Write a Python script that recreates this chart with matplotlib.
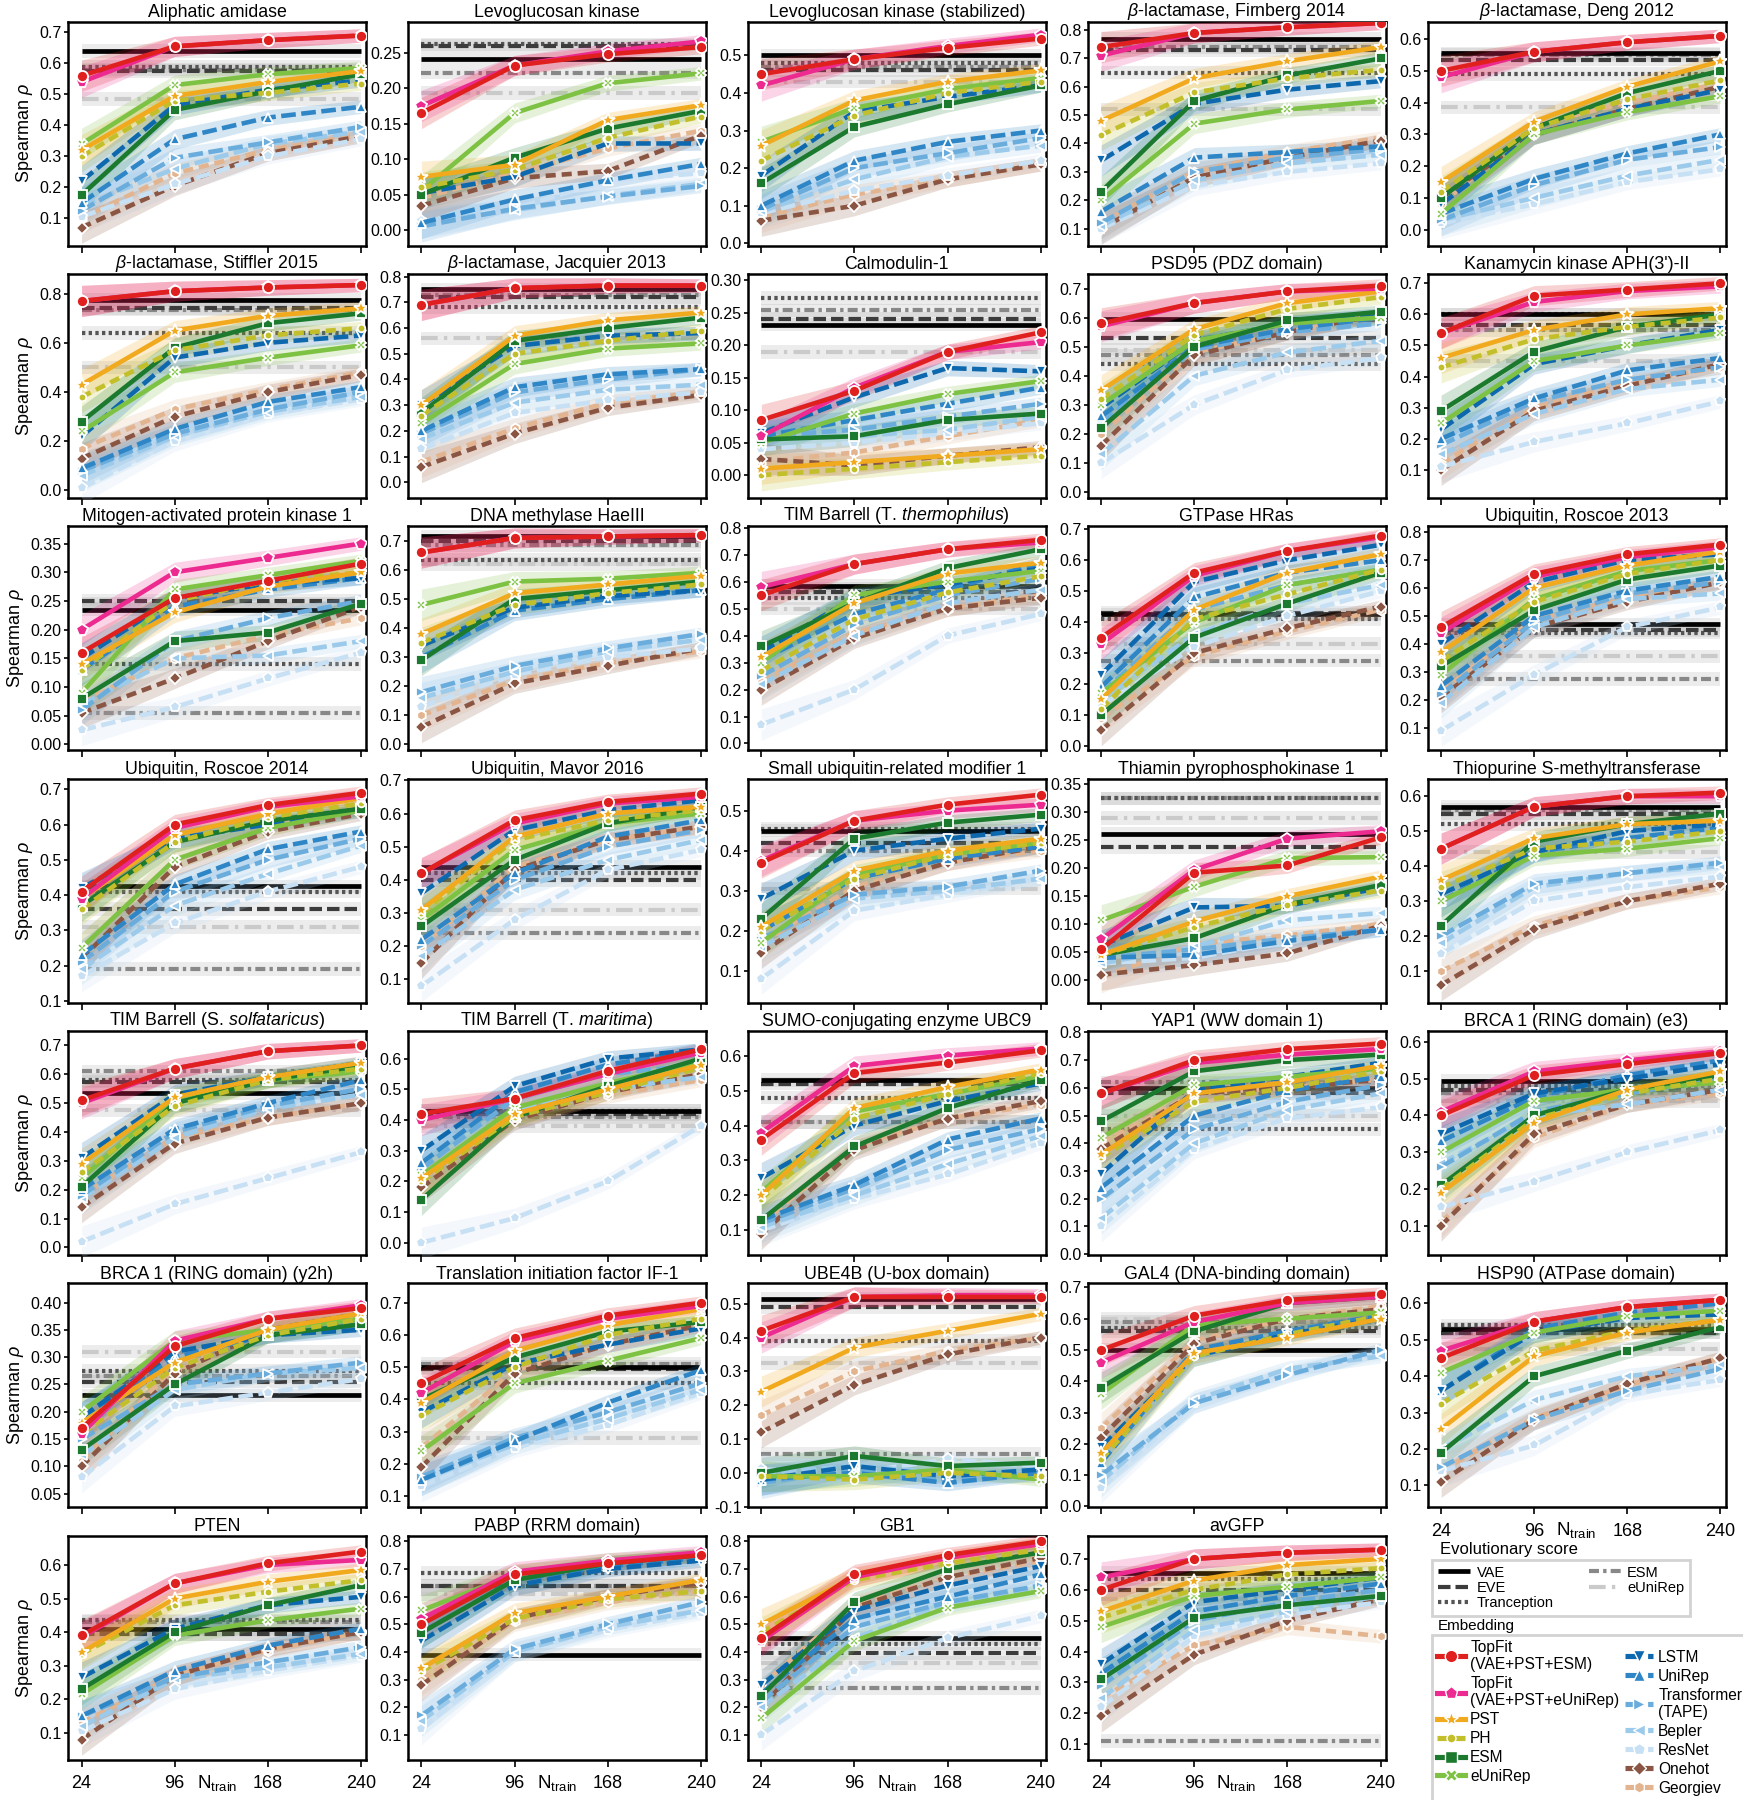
import matplotlib
matplotlib.use('Agg')
import matplotlib.pyplot as plt
from matplotlib.lines import Line2D
from matplotlib.ticker import MultipleLocator, FormatStrFormatter

plt.rcParams['font.family'] = ['Liberation Sans', 'DejaVu Sans']
plt.rcParams['mathtext.fontset'] = 'custom'
plt.rcParams['mathtext.rm'] = 'Liberation Sans'
plt.rcParams['mathtext.it'] = 'Liberation Sans:italic'
plt.rcParams['mathtext.bf'] = 'Liberation Sans:bold'

N_TRAIN = [24, 96, 168, 240]

TITLES = [
    'Aliphatic amidase', 'Levoglucosan kinase', 'Levoglucosan kinase (stabilized)',
    r'$\beta$-lactamase, Firnberg 2014', r'$\beta$-lactamase, Deng 2012',
    r'$\beta$-lactamase, Stiffler 2015', r'$\beta$-lactamase, Jacquier 2013', 'Calmodulin-1',
    'PSD95 (PDZ domain)', "Kanamycin kinase APH(3')-II",
    'Mitogen-activated protein kinase 1', 'DNA methylase HaeIII',
    r'TIM Barrell (T. $\it{thermophilus}$)', 'GTPase HRas', 'Ubiquitin, Roscoe 2013',
    'Ubiquitin, Roscoe 2014', 'Ubiquitin, Mavor 2016', 'Small ubiquitin-related modifier 1',
    'Thiamin pyrophosphokinase 1', 'Thiopurine S-methyltransferase',
    r'TIM Barrell (S. $\it{solfataricus}$)', r'TIM Barrell (T. $\it{maritima}$)',
    'SUMO-conjugating enzyme UBC9', 'YAP1 (WW domain 1)', 'BRCA 1 (RING domain) (e3)',
    'BRCA 1 (RING domain) (y2h)', 'Translation initiation factor IF-1', 'UBE4B (U-box domain)',
    'GAL4 (DNA-binding domain)', 'HSP90 (ATPase domain)',
    'PTEN', 'PABP (RRM domain)', 'GB1', 'avGFP',
]

Y_LIMITS = [
    (0.012, 0.735), (-0.022, 0.294), (-0.006, 0.59), (0.04, 0.83), (-0.05, 0.655),
    (-0.03, 0.88), (-0.06, 0.81), (-0.035, 0.31), (-0.02, 0.75), (0.01, 0.73),
    (-0.01, 0.38), (-0.02, 0.75), (-0.025, 0.805), (-0.015, 0.71), (0.02, 0.82),
    (0.095, 0.73), (0.03, 0.705), (0.02, 0.58), (-0.04, 0.36), (0.01, 0.65),
    (-0.026, 0.75), (-0.04, 0.69), (0.03, 0.67), (-0.003, 0.805), (0.02, 0.63),
    (0.025, 0.435), (0.065, 0.76), (-0.102, 0.56), (-0.003, 0.713), (0.04, 0.655),
    (0.02, 0.687), (0.01, 0.82), (0.01, 0.82), (0.05, 0.775),
]

Y_STEPS = [
    0.1, 0.05, 0.1, 0.1, 0.1,
    0.2, 0.1, 0.05, 0.1, 0.1,
    0.05, 0.1, 0.1, 0.1, 0.1,
    0.1, 0.1, 0.1, 0.05, 0.1,
    0.1, 0.1, 0.1, 0.1, 0.1,
    0.05, 0.1, 0.1, 0.1, 0.1,
    0.1, 0.1, 0.1, 0.1,
]

# evolutionary scores (one value per panel)
EVOL_VAE = [0.64, 0.241, 0.50, 0.77, 0.555, 0.775, 0.75, 0.232, 0.595, 0.60,
            0.235, 0.715, 0.585, 0.425, 0.47, 0.425, 0.44, 0.45, 0.262, 0.57,
            0.535, 0.43, 0.53, 0.60, 0.495, 0.23, 0.50, 0.515, 0.50, 0.53,
            0.41, 0.39, 0.45, 0.655]
EVOL_EVE = [0.575, 0.26, 0.46, 0.73, 0.535, 0.74, 0.72, 0.241, 0.53, 0.565,
            0.25, 0.70, 0.56, 0.43, 0.45, 0.36, 0.40, 0.42, 0.238, 0.55,
            0.575, 0.42, 0.52, 0.58, 0.47, 0.255, 0.495, 0.49, 0.56, 0.52,
            0.395, 0.64, 0.395, 0.60]
EVOL_TRANCEPTION = [0.59, 0.262, 0.48, 0.65, 0.49, 0.64, 0.68, 0.273, 0.44, 0.60,
                    0.14, 0.635, 0.54, 0.41, 0.44, 0.41, 0.42, 0.455, 0.325, 0.52,
                    0.58, 0.43, 0.48, 0.45, 0.48, 0.275, 0.45, 0.39, 0.57, 0.54,
                    0.435, 0.685, 0.43, 0.635]
EVOL_ESM = [0.58, 0.222, 0.47, 0.74, 0.55, 0.735, 0.73, 0.254, 0.47, 0.55,
            0.055, 0.685, 0.575, 0.275, 0.275, 0.19, 0.24, 0.40, 0.325, 0.56,
            0.61, 0.41, 0.41, 0.62, 0.46, 0.265, 0.51, 0.055, 0.59, 0.52,
            0.43, 0.64, 0.27, 0.11]
EVOL_EUNIREP = [0.485, 0.193, 0.43, 0.52, 0.385, 0.50, 0.56, 0.19, 0.49, 0.45,
                0.245, 0.62, 0.50, 0.33, 0.355, 0.31, 0.31, 0.305, 0.29, 0.44,
                0.475, 0.38, 0.41, 0.50, 0.44, 0.31, 0.28, 0.325, 0.60, 0.475,
                0.395, 0.61, 0.36, 0.57]

# embeddings: four values (N_TRAIN) per panel
TOPFIT_ESM = [
    [0.56, 0.655, 0.675, 0.69], [0.165, 0.232, 0.248, 0.258], [0.45, 0.49, 0.52, 0.545],
    [0.74, 0.79, 0.81, 0.825], [0.50, 0.56, 0.59, 0.61],
    [0.77, 0.81, 0.825, 0.835], [0.69, 0.755, 0.765, 0.765], [0.085, 0.13, 0.19, 0.22],
    [0.58, 0.65, 0.69, 0.71], [0.54, 0.66, 0.68, 0.70],
    [0.16, 0.255, 0.285, 0.315], [0.66, 0.71, 0.715, 0.72], [0.55, 0.665, 0.72, 0.755],
    [0.35, 0.56, 0.63, 0.68], [0.46, 0.65, 0.72, 0.755],
    [0.41, 0.60, 0.655, 0.69], [0.42, 0.58, 0.635, 0.66], [0.37, 0.475, 0.515, 0.54],
    [0.055, 0.192, 0.205, 0.255], [0.45, 0.57, 0.60, 0.61],
    [0.51, 0.62, 0.68, 0.70], [0.42, 0.47, 0.56, 0.63], [0.36, 0.55, 0.58, 0.615],
    [0.58, 0.70, 0.74, 0.76], [0.40, 0.51, 0.54, 0.57],
    [0.17, 0.32, 0.37, 0.39], [0.45, 0.59, 0.66, 0.70], [0.42, 0.52, 0.52, 0.52],
    [0.50, 0.61, 0.66, 0.68], [0.45, 0.55, 0.59, 0.61],
    [0.39, 0.545, 0.605, 0.64], [0.50, 0.68, 0.72, 0.75], [0.45, 0.68, 0.75, 0.80],
    [0.60, 0.70, 0.72, 0.73],
]
TOPFIT_EUNIREP = [
    [0.54, 0.655, 0.675, 0.69], [0.175, 0.232, 0.252, 0.266], [0.42, 0.49, 0.525, 0.555],
    [0.71, 0.79, 0.81, 0.825], [0.48, 0.56, 0.59, 0.61],
    [0.77, 0.81, 0.825, 0.835], [0.69, 0.755, 0.765, 0.765], [0.06, 0.135, 0.19, 0.205],
    [0.57, 0.65, 0.69, 0.70], [0.54, 0.64, 0.675, 0.69],
    [0.20, 0.30, 0.325, 0.35], [0.66, 0.71, 0.715, 0.72], [0.58, 0.665, 0.72, 0.745],
    [0.33, 0.55, 0.63, 0.675], [0.44, 0.64, 0.71, 0.745],
    [0.39, 0.59, 0.65, 0.68], [0.42, 0.57, 0.63, 0.65], [0.375, 0.475, 0.50, 0.515],
    [0.073, 0.197, 0.253, 0.266], [0.45, 0.57, 0.60, 0.60],
    [0.50, 0.62, 0.68, 0.70], [0.40, 0.47, 0.55, 0.62], [0.38, 0.57, 0.60, 0.62],
    [0.58, 0.69, 0.72, 0.74], [0.41, 0.52, 0.55, 0.575],
    [0.16, 0.33, 0.37, 0.395], [0.42, 0.58, 0.65, 0.69], [0.40, 0.52, 0.525, 0.525],
    [0.46, 0.59, 0.65, 0.67], [0.47, 0.55, 0.59, 0.61],
    [0.385, 0.545, 0.60, 0.615], [0.52, 0.69, 0.73, 0.76], [0.44, 0.67, 0.74, 0.79],
    [0.64, 0.70, 0.72, 0.73],
]
PST = [
    [0.32, 0.495, 0.54, 0.575], [0.075, 0.092, 0.155, 0.176], [0.26, 0.38, 0.43, 0.46],
    [0.48, 0.63, 0.69, 0.74], [0.15, 0.34, 0.45, 0.53],
    [0.43, 0.65, 0.71, 0.74], [0.30, 0.57, 0.63, 0.66], [0.01, 0.02, 0.03, 0.04],
    [0.35, 0.56, 0.65, 0.69], [0.46, 0.55, 0.60, 0.62],
    [0.14, 0.23, 0.275, 0.30], [0.38, 0.52, 0.55, 0.58], [0.32, 0.52, 0.63, 0.67],
    [0.15, 0.44, 0.56, 0.62], [0.37, 0.60, 0.68, 0.73],
    [0.39, 0.57, 0.63, 0.675], [0.31, 0.53, 0.60, 0.62], [0.21, 0.35, 0.40, 0.43],
    [0.045, 0.105, 0.15, 0.185], [0.36, 0.48, 0.52, 0.53],
    [0.29, 0.52, 0.59, 0.64], [0.21, 0.42, 0.50, 0.58], [0.20, 0.45, 0.51, 0.56],
    [0.36, 0.58, 0.62, 0.68], [0.19, 0.38, 0.47, 0.52],
    [0.18, 0.29, 0.35, 0.38], [0.39, 0.55, 0.63, 0.68], [0.24, 0.37, 0.42, 0.47],
    [0.17, 0.49, 0.54, 0.60], [0.255, 0.455, 0.52, 0.555],
    [0.34, 0.50, 0.55, 0.585], [0.34, 0.54, 0.60, 0.66], [0.50, 0.67, 0.74, 0.79],
    [0.53, 0.63, 0.68, 0.70],
]
PH = [
    [0.30, 0.48, 0.505, 0.535], [0.06, 0.085, 0.13, 0.16], [0.22, 0.34, 0.40, 0.43],
    [0.43, 0.58, 0.63, 0.66], [0.12, 0.32, 0.41, 0.47],
    [0.38, 0.57, 0.63, 0.66], [0.26, 0.50, 0.55, 0.59], [0.0, 0.01, 0.02, 0.03],
    [0.32, 0.54, 0.63, 0.67], [0.43, 0.52, 0.56, 0.59],
    [0.13, 0.25, 0.285, 0.30], [0.35, 0.48, 0.52, 0.55], [0.27, 0.46, 0.56, 0.62],
    [0.12, 0.41, 0.49, 0.57], [0.34, 0.55, 0.65, 0.70],
    [0.36, 0.55, 0.62, 0.66], [0.30, 0.52, 0.58, 0.61], [0.20, 0.33, 0.39, 0.42],
    [0.045, 0.095, 0.135, 0.16], [0.34, 0.45, 0.47, 0.50],
    [0.26, 0.49, 0.58, 0.62], [0.20, 0.41, 0.49, 0.57], [0.19, 0.42, 0.49, 0.55],
    [0.35, 0.55, 0.60, 0.66], [0.20, 0.39, 0.46, 0.50],
    [0.16, 0.28, 0.34, 0.37], [0.35, 0.50, 0.60, 0.65], [-0.01, -0.02, 0.0, -0.01],
    [0.15, 0.48, 0.55, 0.61], [0.325, 0.47, 0.525, 0.555],
    [0.335, 0.48, 0.52, 0.555], [0.33, 0.52, 0.59, 0.62], [0.47, 0.66, 0.72, 0.77],
    [0.51, 0.60, 0.65, 0.67],
]
ESM = [
    [0.175, 0.45, 0.51, 0.565], [0.05, 0.102, 0.143, 0.168], [0.16, 0.31, 0.37, 0.42],
    [0.23, 0.55, 0.64, 0.70], [0.10, 0.32, 0.43, 0.50],
    [0.28, 0.58, 0.68, 0.72], [0.27, 0.55, 0.60, 0.64], [0.055, 0.06, 0.085, 0.095],
    [0.22, 0.50, 0.59, 0.62], [0.29, 0.48, 0.56, 0.60],
    [0.08, 0.18, 0.195, 0.245], [0.29, 0.50, 0.53, 0.56], [0.36, 0.52, 0.65, 0.72],
    [0.10, 0.35, 0.46, 0.56], [0.32, 0.52, 0.63, 0.68],
    [0.37, 0.55, 0.61, 0.645], [0.26, 0.46, 0.57, 0.62], [0.23, 0.43, 0.47, 0.49],
    [0.045, 0.075, 0.135, 0.17], [0.23, 0.47, 0.52, 0.55],
    [0.21, 0.50, 0.58, 0.63], [0.14, 0.41, 0.51, 0.60], [0.13, 0.34, 0.45, 0.53],
    [0.48, 0.66, 0.70, 0.72], [0.21, 0.40, 0.47, 0.51],
    [0.13, 0.25, 0.34, 0.36], [0.40, 0.53, 0.61, 0.64], [0.00, 0.05, 0.02, 0.03],
    [0.38, 0.56, 0.65, 0.67], [0.19, 0.40, 0.47, 0.535],
    [0.23, 0.40, 0.48, 0.54], [0.47, 0.66, 0.72, 0.75], [0.24, 0.58, 0.70, 0.76],
    [0.31, 0.51, 0.55, 0.58],
]
EUNIREP = [
    [0.34, 0.53, 0.565, 0.585], [0.055, 0.165, 0.207, 0.221], [0.27, 0.36, 0.41, 0.44],
    [0.20, 0.47, 0.52, 0.55], [0.05, 0.30, 0.37, 0.42],
    [0.24, 0.48, 0.54, 0.59], [0.23, 0.46, 0.52, 0.54], [0.05, 0.095, 0.125, 0.145],
    [0.30, 0.52, 0.58, 0.60], [0.25, 0.45, 0.50, 0.54],
    [0.09, 0.27, 0.295, 0.32], [0.48, 0.56, 0.57, 0.59], [0.30, 0.55, 0.60, 0.64],
    [0.17, 0.40, 0.52, 0.57], [0.29, 0.56, 0.66, 0.70],
    [0.25, 0.50, 0.59, 0.64], [0.28, 0.49, 0.57, 0.60], [0.17, 0.34, 0.39, 0.42],
    [0.107, 0.167, 0.218, 0.22], [0.30, 0.43, 0.45, 0.48],
    [0.24, 0.52, 0.58, 0.61], [0.22, 0.44, 0.52, 0.59], [0.21, 0.44, 0.49, 0.54],
    [0.42, 0.61, 0.64, 0.67], [0.30, 0.44, 0.47, 0.49],
    [0.20, 0.33, 0.35, 0.37], [0.24, 0.45, 0.52, 0.59], [-0.01, -0.01, 0.01, -0.02],
    [0.36, 0.58, 0.60, 0.62], [0.41, 0.52, 0.565, 0.58],
    [0.215, 0.39, 0.435, 0.47], [0.55, 0.68, 0.73, 0.75], [0.16, 0.44, 0.56, 0.62],
    [0.48, 0.58, 0.61, 0.64],
]
LSTM = [
    [0.22, 0.465, 0.515, 0.545], [0.052, 0.075, 0.122, 0.122], [0.18, 0.35, 0.39, 0.42],
    [0.34, 0.54, 0.59, 0.62], [0.08, 0.30, 0.38, 0.44],
    [0.22, 0.54, 0.60, 0.63], [0.30, 0.53, 0.57, 0.58], [0.065, 0.12, 0.165, 0.16],
    [0.29, 0.52, 0.58, 0.61], [0.23, 0.44, 0.50, 0.55],
    [0.15, 0.255, 0.28, 0.29], [0.34, 0.47, 0.51, 0.53], [0.34, 0.54, 0.59, 0.65],
    [0.23, 0.53, 0.60, 0.65], [0.40, 0.62, 0.70, 0.72],
    [0.42, 0.56, 0.60, 0.64], [0.36, 0.55, 0.61, 0.64], [0.28, 0.40, 0.43, 0.455],
    [0.062, 0.13, 0.133, 0.165], [0.32, 0.44, 0.50, 0.52],
    [0.31, 0.53, 0.59, 0.64], [0.30, 0.51, 0.60, 0.63], [0.25, 0.40, 0.47, 0.52],
    [0.29, 0.59, 0.64, 0.69], [0.35, 0.46, 0.50, 0.54],
    [0.19, 0.31, 0.34, 0.35], [0.36, 0.51, 0.57, 0.62], [-0.02, 0.02, -0.01, 0.01],
    [0.19, 0.48, 0.55, 0.60], [0.36, 0.52, 0.56, 0.57],
    [0.265, 0.41, 0.48, 0.505], [0.44, 0.64, 0.70, 0.73], [0.28, 0.55, 0.64, 0.71],
    [0.36, 0.56, 0.60, 0.64],
]
UNIREP = [
    [0.15, 0.355, 0.425, 0.46], [0.01, 0.043, 0.07, 0.093], [0.10, 0.22, 0.27, 0.30],
    [0.16, 0.35, 0.37, 0.39], [0.05, 0.16, 0.24, 0.30],
    [0.09, 0.25, 0.36, 0.42], [0.20, 0.37, 0.42, 0.44], [0.06, 0.085, 0.11, 0.135],
    [0.26, 0.50, 0.56, 0.60], [0.20, 0.33, 0.42, 0.46],
    [0.13, 0.24, 0.27, 0.29], [0.30, 0.46, 0.50, 0.53], [0.31, 0.48, 0.57, 0.67],
    [0.19, 0.48, 0.56, 0.60], [0.25, 0.50, 0.59, 0.64],
    [0.23, 0.43, 0.53, 0.58], [0.22, 0.42, 0.53, 0.58], [0.20, 0.33, 0.38, 0.41],
    [0.04, 0.045, 0.07, 0.09], [0.30, 0.44, 0.48, 0.51],
    [0.20, 0.41, 0.50, 0.58], [0.26, 0.49, 0.58, 0.63], [0.13, 0.23, 0.36, 0.42],
    [0.24, 0.50, 0.59, 0.64], [0.33, 0.45, 0.51, 0.55],
    [0.19, 0.30, 0.34, 0.36], [0.15, 0.27, 0.39, 0.49], [-0.02, 0.00, -0.03, 0.00],
    [0.14, 0.50, 0.56, 0.61], [0.36, 0.53, 0.575, 0.60],
    [0.15, 0.285, 0.36, 0.41], [0.47, 0.66, 0.71, 0.74], [0.25, 0.52, 0.60, 0.68],
    [0.33, 0.53, 0.58, 0.62],
]
TAPE = [
    [0.125, 0.295, 0.345, 0.395], [0.005, 0.03, 0.047, 0.062], [0.09, 0.20, 0.24, 0.28],
    [0.12, 0.30, 0.35, 0.38], [0.03, 0.14, 0.22, 0.26],
    [0.08, 0.23, 0.33, 0.40], [0.19, 0.35, 0.40, 0.44], [0.06, 0.07, 0.09, 0.11],
    [0.24, 0.49, 0.55, 0.58], [0.18, 0.32, 0.39, 0.43],
    [0.06, 0.18, 0.22, 0.25], [0.18, 0.27, 0.33, 0.38], [0.25, 0.44, 0.55, 0.61],
    [0.17, 0.44, 0.52, 0.57], [0.22, 0.48, 0.58, 0.62],
    [0.21, 0.41, 0.50, 0.56], [0.20, 0.40, 0.50, 0.55], [0.18, 0.29, 0.31, 0.35],
    [0.04, 0.055, 0.075, 0.09], [0.20, 0.35, 0.38, 0.41],
    [0.18, 0.40, 0.49, 0.55], [0.24, 0.47, 0.55, 0.58], [0.12, 0.22, 0.33, 0.39],
    [0.20, 0.45, 0.55, 0.61], [0.26, 0.41, 0.46, 0.50],
    [0.15, 0.25, 0.27, 0.29], [0.16, 0.28, 0.36, 0.45], [-0.03, 0.01, -0.02, 0.00],
    [0.10, 0.33, 0.42, 0.50], [0.15, 0.28, 0.36, 0.42],
    [0.15, 0.265, 0.31, 0.355], [0.17, 0.41, 0.50, 0.58], [0.22, 0.49, 0.58, 0.64],
    [0.29, 0.50, 0.56, 0.60],
]
BEPLER = [
    [0.14, 0.26, 0.34, 0.38], [0.01, 0.028, 0.048, 0.065], [0.085, 0.17, 0.23, 0.26],
    [0.11, 0.27, 0.33, 0.36], [0.03, 0.10, 0.17, 0.22],
    [0.06, 0.22, 0.32, 0.38], [0.17, 0.31, 0.36, 0.38], [0.055, 0.06, 0.07, 0.09],
    [0.13, 0.40, 0.48, 0.52], [0.15, 0.28, 0.36, 0.39],
    [0.07, 0.15, 0.155, 0.18], [0.16, 0.25, 0.32, 0.36], [0.22, 0.40, 0.52, 0.57],
    [0.15, 0.36, 0.46, 0.52], [0.19, 0.46, 0.56, 0.58],
    [0.19, 0.37, 0.46, 0.54], [0.17, 0.37, 0.46, 0.52], [0.16, 0.28, 0.30, 0.33],
    [0.03, 0.06, 0.107, 0.12], [0.18, 0.34, 0.38, 0.40],
    [0.17, 0.38, 0.48, 0.53], [0.22, 0.43, 0.50, 0.54], [0.11, 0.20, 0.29, 0.37],
    [0.13, 0.40, 0.52, 0.58], [0.27, 0.40, 0.43, 0.47],
    [0.12, 0.24, 0.27, 0.28], [0.15, 0.26, 0.34, 0.43], [0.00, 0.02, 0.00, -0.01],
    [0.08, 0.34, 0.44, 0.48], [0.20, 0.335, 0.40, 0.43],
    [0.12, 0.26, 0.295, 0.335], [0.15, 0.40, 0.49, 0.55], [0.20, 0.45, 0.57, 0.63],
    [0.25, 0.47, 0.53, 0.58],
]
RESNET = [
    [0.105, 0.21, 0.30, 0.355], [0.012, 0.03, 0.07, 0.08], [0.08, 0.14, 0.18, 0.22],
    [0.10, 0.25, 0.30, 0.33], [0.02, 0.08, 0.15, 0.19],
    [0.01, 0.20, 0.31, 0.37], [0.13, 0.27, 0.32, 0.35], [0.04, 0.05, 0.065, 0.08],
    [0.10, 0.30, 0.42, 0.46], [0.11, 0.19, 0.25, 0.32],
    [0.025, 0.065, 0.115, 0.16], [0.13, 0.24, 0.30, 0.33], [0.07, 0.20, 0.40, 0.48],
    [0.13, 0.32, 0.42, 0.50], [0.09, 0.29, 0.46, 0.53],
    [0.17, 0.32, 0.41, 0.48], [0.08, 0.28, 0.43, 0.49], [0.08, 0.25, 0.29, 0.33],
    [0.03, 0.04, 0.07, 0.09], [0.15, 0.30, 0.34, 0.37],
    [0.02, 0.15, 0.24, 0.33], [0.00, 0.08, 0.20, 0.38], [0.10, 0.19, 0.26, 0.35],
    [0.10, 0.38, 0.49, 0.53], [0.15, 0.22, 0.30, 0.36],
    [0.08, 0.21, 0.235, 0.26], [0.13, 0.25, 0.32, 0.42], [0.01, 0.00, 0.04, 0.02],
    [0.06, 0.33, 0.43, 0.49], [0.14, 0.21, 0.35, 0.39],
    [0.105, 0.23, 0.285, 0.33], [0.12, 0.40, 0.48, 0.54], [0.10, 0.33, 0.45, 0.53],
    [0.22, 0.45, 0.52, 0.56],
]
ONEHOT = [
    [0.07, 0.205, 0.31, 0.365], [0.034, 0.073, 0.083, 0.133], [0.06, 0.10, 0.17, 0.21],
    [0.10, 0.28, 0.35, 0.41], [0.10, 0.30, 0.38, 0.45],
    [0.13, 0.30, 0.40, 0.47], [0.06, 0.19, 0.29, 0.34], [0.025, 0.015, 0.03, 0.043],
    [0.16, 0.47, 0.55, 0.61], [0.10, 0.29, 0.37, 0.44],
    [0.055, 0.115, 0.18, 0.24], [0.06, 0.21, 0.27, 0.33], [0.20, 0.39, 0.50, 0.54],
    [0.05, 0.30, 0.38, 0.45], [0.21, 0.46, 0.55, 0.62],
    [0.22, 0.48, 0.58, 0.63], [0.15, 0.43, 0.52, 0.56], [0.145, 0.30, 0.37, 0.41],
    [0.01, 0.027, 0.048, 0.097], [0.06, 0.22, 0.30, 0.35],
    [0.14, 0.36, 0.45, 0.50], [0.18, 0.40, 0.49, 0.55], [0.09, 0.33, 0.42, 0.47],
    [0.38, 0.58, 0.60, 0.63], [0.10, 0.35, 0.43, 0.47],
    [0.10, 0.27, 0.35, 0.38], [0.19, 0.48, 0.57, 0.63], [0.12, 0.26, 0.35, 0.40],
    [0.22, 0.52, 0.60, 0.63], [0.11, 0.28, 0.38, 0.45],
    [0.08, 0.27, 0.35, 0.40], [0.28, 0.52, 0.60, 0.65], [0.20, 0.56, 0.67, 0.74],
    [0.19, 0.39, 0.50, 0.57],
]
GEORGIEV = [
    [0.10, 0.245, 0.32, 0.37], [0.045, 0.08, 0.115, 0.14], [0.07, 0.13, 0.17, 0.21],
    [0.12, 0.30, 0.37, 0.42], [0.08, 0.33, 0.40, 0.46],
    [0.17, 0.33, 0.41, 0.48], [0.08, 0.21, 0.31, 0.35], [0.02, 0.035, 0.06, 0.085],
    [0.20, 0.48, 0.55, 0.61], [0.12, 0.30, 0.38, 0.43],
    [0.075, 0.15, 0.19, 0.22], [0.10, 0.22, 0.28, 0.32], [0.23, 0.41, 0.50, 0.55],
    [0.09, 0.29, 0.37, 0.44], [0.23, 0.49, 0.56, 0.62],
    [0.25, 0.50, 0.59, 0.65], [0.20, 0.44, 0.52, 0.56], [0.17, 0.31, 0.37, 0.40],
    [0.005, 0.065, 0.08, 0.10], [0.10, 0.23, 0.30, 0.34],
    [0.18, 0.38, 0.45, 0.50], [0.19, 0.41, 0.48, 0.53], [0.12, 0.34, 0.42, 0.46],
    [0.40, 0.58, 0.60, 0.63], [0.11, 0.34, 0.43, 0.46],
    [0.11, 0.28, 0.35, 0.38], [0.25, 0.49, 0.57, 0.63], [0.17, 0.30, 0.36, 0.40],
    [0.25, 0.53, 0.60, 0.64], [0.14, 0.285, 0.375, 0.45],
    [0.13, 0.27, 0.345, 0.40], [0.30, 0.51, 0.58, 0.62], [0.28, 0.57, 0.67, 0.73],
    [0.25, 0.42, 0.48, 0.45],
]

# relative spread of the shaded bands (fraction of the panel's y range)
BAND_REL = [0.07, 0.045, 0.035, 0.03]
EVOL_BAND_REL = 0.03

DASH = (0, (3.2, 1.2))
DASH_SHORT = (0, (2.2, 1.3))

EVOL_STYLE = [
    ('VAE', EVOL_VAE, 'black', '-', 3.4),
    ('EVE', EVOL_EVE, '#3c3c3c', (0, (3.0, 1.2)), 3.0),
    ('Tranception', EVOL_TRANCEPTION, '#555555', (0, (0.8, 0.8)), 3.0),
    ('ESM', EVOL_ESM, '#888888', (0, (2.4, 1.0, 0.8, 1.0)), 3.0),
    ('eUniRep', EVOL_EUNIREP, '#cacaca', (0, (4.0, 1.5, 0.8, 1.5)), 3.0),
]

EMBED_STYLE = [
    ('TopFit\n(VAE+PST+ESM)', TOPFIT_ESM, '#e0201f', '-', 'o', 8),
    ('TopFit\n(VAE+PST+eUniRep)', TOPFIT_EUNIREP, '#ec2a8f', '-', 'p', 8.5),
    ('PST', PST, '#f1a91d', '-', '*', 10),
    ('PH', PH, '#c2bf2a', DASH_SHORT, 'o', 5.5),
    ('ESM', ESM, '#1b7a2e', '-', 's', 7),
    ('eUniRep', EUNIREP, '#7ec244', '-', 'X', 7),
    ('LSTM', LSTM, '#0e68ae', DASH, 'v', 7.5),
    ('UniRep', UNIREP, '#2f86c6', DASH, '^', 7.5),
    ('Transformer\n(TAPE)', TAPE, '#6aaddd', DASH, '>', 7.5),
    ('Bepler', BEPLER, '#9ccaea', DASH, '<', 7.5),
    ('ResNet', RESNET, '#c8e0f4', DASH, 'p', 8),
    ('Onehot', ONEHOT, '#8a5543', DASH_SHORT, 'D', 6.5),
    ('Georgiev', GEORGIEV, '#e2b48f', DASH_SHORT, 'h', 7),
]

fig = plt.figure(figsize=(17.43, 18.0), dpi=100)

LEFT, WIDTH, PITCH_X = 0.039, 0.171, 0.195
TOP, HEIGHT, PITCH_Y = 0.988, 0.1244, 0.1402
LW = 3.3

for i, title in enumerate(TITLES):
    row, col = divmod(i, 5)
    ax = fig.add_axes([LEFT + col * PITCH_X, TOP - row * PITCH_Y - HEIGHT, WIDTH, HEIGHT])
    lo, hi = Y_LIMITS[i]
    span = hi - lo
    xs = [N_TRAIN[0], N_TRAIN[-1]]

    # evolutionary scores, flat lines with a grey band
    for name, vals, color, ls, lw in EVOL_STYLE:
        v = vals[i]
        ax.fill_between(xs, v - EVOL_BAND_REL * span, v + EVOL_BAND_REL * span,
                        color='#8c8c8c', alpha=0.16, lw=0, zorder=1)
    for name, vals, color, ls, lw in reversed(EVOL_STYLE):
        ax.plot(xs, [vals[i], vals[i]], color=color, ls=ls, lw=lw, zorder=2,
                solid_capstyle='butt', dash_capstyle='butt')

    # embeddings: bands first, then lines on top
    for name, vals, color, ls, marker, ms in EMBED_STYLE:
        y = vals[i]
        lower = [v - r * span for v, r in zip(y, BAND_REL)]
        upper = [v + r * span for v, r in zip(y, BAND_REL)]
        ax.fill_between(N_TRAIN, lower, upper, color=color, alpha=0.2, lw=0, zorder=3)
    for z, (name, vals, color, ls, marker, ms) in enumerate(reversed(EMBED_STYLE)):
        ax.plot(N_TRAIN, vals[i], color=color, ls=ls, lw=LW, marker=marker, ms=ms,
                mfc=color, mec='white', mew=1.3, zorder=4 + z * 0.1,
                dash_capstyle='butt')

    ax.set_xlim(13.5, 244)
    ax.set_ylim(lo, hi)
    ax.set_xticks(N_TRAIN)
    step = Y_STEPS[i]
    ax.yaxis.set_major_locator(MultipleLocator(step))
    ax.yaxis.set_major_formatter(FormatStrFormatter('%.2f' if step < 0.1 else '%.1f'))
    ax.tick_params(axis='y', labelsize=11.5, length=3, width=1.2, pad=1.5)
    ax.tick_params(axis='x', labelsize=13, length=5, width=1.2, pad=6)
    for s in ax.spines.values():
        s.set_linewidth(1.8)
    ax.set_title(title, fontsize=12.8, pad=3.5)

    bottom_panel = (row == 6) or (i == 29)
    if bottom_panel:
        ax.set_xticklabels([str(n) for n in N_TRAIN])
        ax.set_xlabel(r'N$_{\mathrm{train}}$', fontsize=13.5, labelpad=-14)
    else:
        ax.set_xticklabels([])
    if col == 0:
        ax.set_ylabel(r'Spearman $\rho$', fontsize=13, labelpad=3)

# legends in the free cell
evol_handles = [Line2D([], [], color=c, ls=ls, lw=lw, solid_capstyle='butt',
                       dash_capstyle='butt')
                for name, vals, c, ls, lw in EVOL_STYLE]
evol_labels = [name for name, *_ in EVOL_STYLE]
fig.text(0.826, 0.1392, 'Evolutionary score', fontsize=12, ha='left', va='center')
leg1 = fig.legend(evol_handles, evol_labels, loc='upper left', ncol=2,
                  bbox_to_anchor=(0.8216, 0.1335), bbox_transform=fig.transFigure,
                  borderaxespad=0, fontsize=10.5, frameon=True, fancybox=False,
                  handlelength=2.2, handletextpad=0.45, columnspacing=2.4,
                  labelspacing=0.1, borderpad=0.4)
leg1.get_frame().set_edgecolor('#c8c8c8')
leg1.get_frame().set_linewidth(2.0)

emb_handles = []
emb_labels = []
for k, (name, vals, c, ls, marker, ms) in enumerate(EMBED_STYLE):
    emb_handles.append(Line2D([], [], color=c, ls=ls, lw=LW + 0.4, marker=marker, ms=ms + 1,
                              mfc=c, mec='white', mew=1.0, dash_capstyle='butt'))
    emb_labels.append(name)
    if k == 5:
        emb_handles.append(Line2D([], [], color='none'))
        emb_labels.append('')
fig.text(0.825, 0.0967, 'Embedding', fontsize=11, ha='left', va='center')
leg2 = fig.legend(emb_handles, emb_labels, loc='upper left', ncol=2,
                  bbox_to_anchor=(0.8216, 0.0917), bbox_transform=fig.transFigure,
                  borderaxespad=0, fontsize=11.2, frameon=True, fancybox=False,
                  handlelength=1.8, handletextpad=0.35, columnspacing=0.35,
                  labelspacing=0.25, borderpad=0.3)
leg2.get_frame().set_edgecolor('#c8c8c8')
leg2.get_frame().set_linewidth(2.0)

fig.savefig('out.png', dpi=100)
